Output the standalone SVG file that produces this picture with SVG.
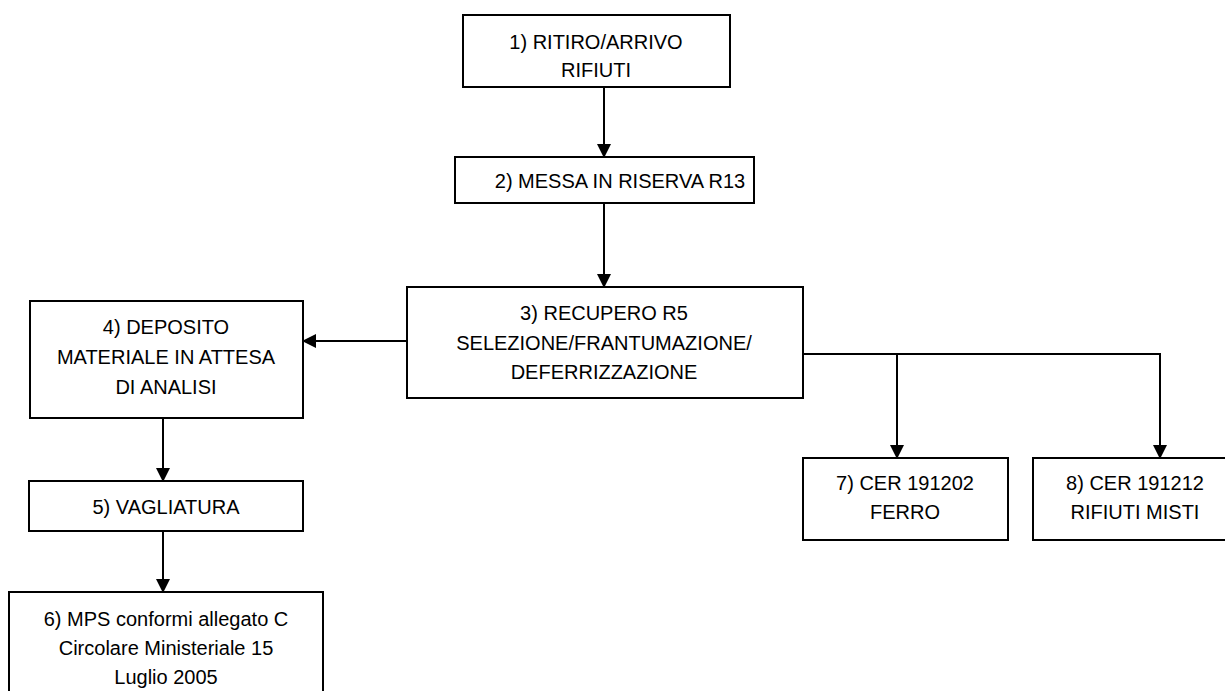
<svg xmlns="http://www.w3.org/2000/svg" width="1225" height="691" viewBox="0 0 1225 691">
<style>
.box{fill:#fff;stroke:#000;stroke-width:2}
.t{font-family:"Liberation Sans",Arial,sans-serif;font-size:20px;fill:#000;text-anchor:middle}
.c{fill:none;stroke:#000;stroke-width:2}
</style>
<defs>
<marker id="ah" markerWidth="14" markerHeight="14" viewBox="0 0 14 14" refX="13" refY="7" orient="auto" markerUnits="userSpaceOnUse">
<path d="M0,0 L14,7 L0,14 Z" fill="#000"/>
</marker>
</defs>
<rect width="1225" height="691" fill="#fff"/>
<g id="connectors">
<path class="c" d="M604,87 V157" marker-end="url(#ah)"/>
<path class="c" d="M604,203 V287" marker-end="url(#ah)"/>
<path class="c" d="M407,341 H303" marker-end="url(#ah)"/>
<path class="c" d="M803,354 H1160 V458" marker-end="url(#ah)"/>
<path class="c" d="M897,354 V458" marker-end="url(#ah)"/>
<path class="c" d="M163,418 V481" marker-end="url(#ah)"/>
<path class="c" d="M163,531 V592" marker-end="url(#ah)"/>
</g>
<g id="n1"><rect class="box" x="463" y="15" width="267" height="72"/>
<text class="t" x="596" y="49">1) RITIRO/ARRIVO</text><text class="t" x="596" y="77">RIFIUTI</text></g>
<g id="n2"><rect class="box" x="455" y="157" width="299" height="46"/>
<text class="t" x="620" y="188">2) MESSA IN RISERVA R13</text></g>
<g id="n3"><rect class="box" x="407" y="287" width="396" height="111"/>
<text class="t" x="604" y="320">3) RECUPERO R5</text><text class="t" x="604" y="350">SELEZIONE/FRANTUMAZIONE/</text><text class="t" x="604" y="379">DEFERRIZZAZIONE</text></g>
<g id="n4"><rect class="box" x="30" y="301" width="273" height="117"/>
<text class="t" x="166" y="334">4) DEPOSITO</text><text class="t" x="166" y="364">MATERIALE IN ATTESA</text><text class="t" x="166" y="394">DI ANALISI</text></g>
<g id="n5"><rect class="box" x="29" y="481" width="274" height="50"/>
<text class="t" x="166" y="514">5) VAGLIATURA</text></g>
<g id="n6"><rect class="box" x="9" y="592" width="314" height="110"/>
<text class="t" x="166" y="626">6) MPS conformi allegato C</text><text class="t" x="166" y="655">Circolare Ministeriale 15</text><text class="t" x="166" y="684">Luglio 2005</text></g>
<g id="n7"><rect class="box" x="803" y="458" width="205" height="82"/>
<text class="t" x="905" y="490">7) CER 191202</text><text class="t" x="905" y="519">FERRO</text></g>
<g id="n8"><rect class="box" x="1033" y="458" width="204" height="82"/>
<text class="t" x="1135" y="490">8) CER 191212</text><text class="t" x="1135" y="519">RIFIUTI MISTI</text></g>
</svg>
